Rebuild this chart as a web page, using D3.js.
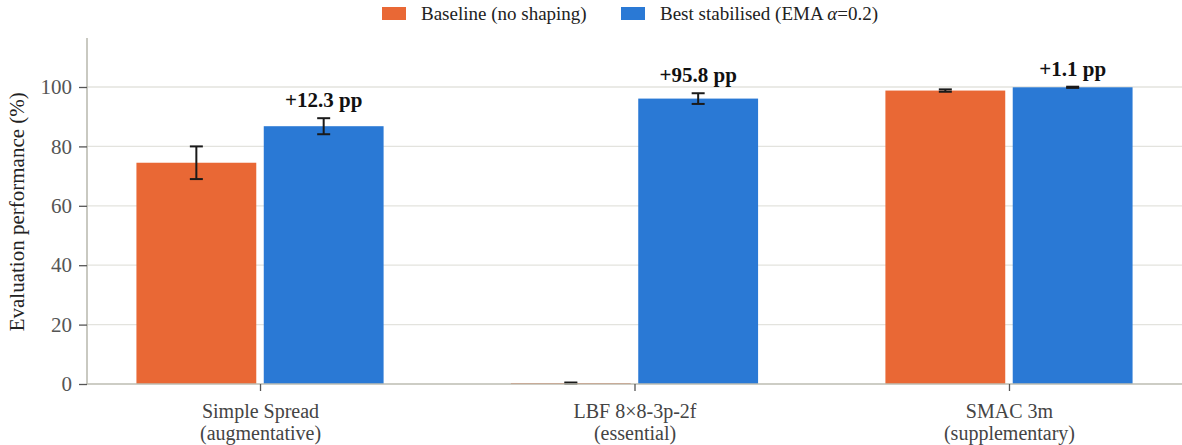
<!DOCTYPE html>
<html>
<head>
<meta charset="utf-8">
<script src="https://cdn.jsdelivr.net/npm/d3@7"></script>
<style>
  body { margin: 0; background: #fff; }
  svg { display: block; font-family: "Liberation Serif", "DejaVu Serif", serif; }
</style>
</head>
<body>
<div class="chart"></div>
<script>
// data
var categories = ['Simple Spread', 'LBF 8\u00d78-3p-2f', 'SMAC 3m']
var subtitles = ['(augmentative)', '(essential)', '(supplementary)']
var seriesNames = ['Baseline (no shaping)', 'Best stabilised (EMA \u03b1=0.2)']
var baseline = [74.5, 0.3, 98.8]
var baselineErr = [5.5, 0.2, 0.4]
var stabilised = [86.8, 96.1, 99.9]
var stabilisedErr = [2.7, 1.8, 0.2]
var gains = ['+12.3 pp', '+95.8 pp', '+1.1 pp']
var yTicks = [0, 20, 40, 60, 80, 100]

var colors = ['#E96835', '#2A79D5']

var width = 1182, height = 445
var margin = {top: 38, right: 0, bottom: 61, left: 87}

var svg = d3.select('.chart')
            .append('svg')
            .attr('width', width)
            .attr('height', height)

var xScale = d3.scalePoint()
               .domain(categories)
               .range([margin.left, width])
               .padding(0.462)

var step = xScale.step()
var barW = step * 0.32
var offset = step * 0.17

var yScale = d3.scaleLinear()
               .domain([0, 116.5])
               .range([height - margin.bottom, margin.top])

// grid
svg.append('g')
   .selectAll('line')
   .data(yTicks.slice(1))
   .enter()
   .append('line')
   .attr('x1', margin.left)
   .attr('x2', width)
   .attr('y1', function(d){ return yScale(d) })
   .attr('y2', function(d){ return yScale(d) })
   .style('stroke', '#e3e3de')
   .style('stroke-width', 1.3)

// bars + error bars
var series = [
   {values: baseline, err: baselineErr, off: -offset, color: colors[0]},
   {values: stabilised, err: stabilisedErr, off: offset, color: colors[1]}
]

series.forEach(function(s){
   svg.append('g')
      .selectAll('rect')
      .data(categories)
      .enter()
      .append('rect')
      .attr('x', function(d){ return xScale(d) + s.off - barW/2 })
      .attr('width', barW)
      .attr('y', function(d,i){ return yScale(s.values[i]) })
      .attr('height', function(d,i){ return yScale(0) - yScale(s.values[i]) })
      .style('fill', s.color)

   var eb = svg.append('g')
               .selectAll('g')
               .data(categories)
               .enter()
               .append('g')
               .style('stroke', '#1a1a1a')
               .style('stroke-width', 2)
   eb.append('line')
     .attr('x1', function(d){ return xScale(d) + s.off })
     .attr('x2', function(d){ return xScale(d) + s.off })
     .attr('y1', function(d,i){ return yScale(s.values[i] - s.err[i]) })
     .attr('y2', function(d,i){ return yScale(s.values[i] + s.err[i]) })
   ;[-1, 1].forEach(function(sign){
      eb.append('line')
        .attr('x1', function(d){ return xScale(d) + s.off - 6.5 })
        .attr('x2', function(d){ return xScale(d) + s.off + 6.5 })
        .attr('y1', function(d,i){ return yScale(s.values[i] + sign*s.err[i]) })
        .attr('y2', function(d,i){ return yScale(s.values[i] + sign*s.err[i]) })
   })
})

// gain annotations
svg.append('g')
   .selectAll('text')
   .data(categories)
   .enter()
   .append('text')
   .attr('x', function(d){ return xScale(d) + offset })
   .attr('y', function(d,i){ return yScale(stabilised[i] + stabilisedErr[i]) - 11 })
   .attr('text-anchor', 'middle')
   .style('font-size', '21px')
   .style('font-weight', 'bold')
   .style('fill', '#111')
   .text(function(d,i){ return gains[i] })

// axes
var yAxis = d3.axisLeft(yScale).tickValues(yTicks).tickSize(8).tickPadding(7)
var gy = svg.append('g')
   .attr('transform', 'translate(' + margin.left + ',0)')
   .call(yAxis)
gy.select('.domain').attr('d', 'M0,' + yScale(0) + 'V' + margin.top)
gy.selectAll('text').style('font-size', '21px').style('fill', '#555').style('font-family', 'Liberation Serif')

var xAxis = d3.axisBottom(xScale).tickSize(7).tickPadding(8).tickFormat('')
var gx = svg.append('g')
   .attr('transform', 'translate(0,' + yScale(0) + ')')
   .call(xAxis)
gx.select('.domain').attr('d', 'M' + margin.left + ',0H' + width)

svg.selectAll('.domain').style('stroke', '#bcbcb2').style('stroke-width', 1.6)
svg.selectAll('.tick line').style('stroke', '#555').style('stroke-width', 1.3)

gx.selectAll('.tick')
  .append('text')
  .attr('y', 34)
  .attr('text-anchor', 'middle')
  .style('font-size', '20px')
  .style('fill', '#444')
  .style('font-family', 'Liberation Serif')
  .text(function(d){ return d })
gx.selectAll('.tick')
  .append('text')
  .attr('y', 56)
  .attr('text-anchor', 'middle')
  .style('font-size', '20px')
  .style('fill', '#444')
  .style('font-family', 'Liberation Serif')
  .text(function(d,i){ return subtitles[i] })

svg.append('text')
   .attr('transform', 'translate(24,' + yScale(58) + ') rotate(-90)')
   .attr('text-anchor', 'middle')
   .style('font-size', '21px')
   .style('fill', '#222')
   .text('Evaluation performance (%)')

// legend
var legendX = [382, 621]
var legend = svg.append('g')
   .selectAll('g')
   .data(seriesNames)
   .enter()
   .append('g')
   .attr('transform', function(d,i){ return 'translate(' + legendX[i] + ',7)' })
legend.append('rect')
   .attr('width', 24)
   .attr('height', 13)
   .style('fill', function(d,i){ return colors[i] })
legend.append('text')
   .attr('x', 39)
   .attr('y', 13)
   .style('font-size', '19px')
   .style('fill', '#222')
   .each(function(d,i){
      var t = d3.select(this)
      if (i == 1) {
         t.append('tspan').text('Best stabilised (EMA ')
         t.append('tspan').style('font-style', 'italic').text('\u03b1')
         t.append('tspan').text('=0.2)')
      } else {
         t.text(d)
      }
   })
</script>
</body>
</html>
